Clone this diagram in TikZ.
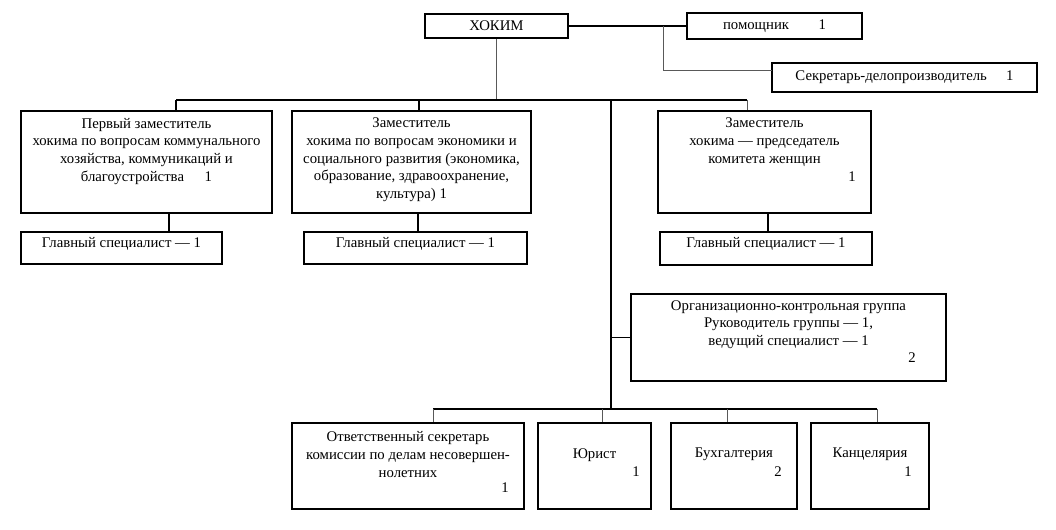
\documentclass[tikz,border=0pt]{standalone}
\usepackage{fontspec}
\setmainfont{Liberation Serif}
\usetikzlibrary{positioning}

\begin{document}
\begin{tikzpicture}[x=0.025cm,y=-0.025cm,
  box/.style={draw,line width=1.4pt,inner sep=0pt,font=\fontsize{10.5}{12.6}\selectfont},
  txt/.style={inner sep=0pt,align=center,font=\fontsize{10.5}{12.6}\selectfont},
  bold/.style={line width=1.4pt},
  fine/.style={line width=0.6pt,gray!70!black}]
\useasboundingbox (0,0) rectangle (1056,529);

% top
\node[box,minimum width=3.575cm,minimum height=0.6cm] (hokim) at (496.5,26) {ХОКИМ};
\node[box,minimum width=4.375cm,minimum height=0.65cm] (pomosh) at (774.5,26) {помощник\hspace{2em}1};
\node[box,minimum width=6.625cm,minimum height=0.725cm] (sekr) at (904.5,77.5) {Секретарь-делопроизводитель\hspace{1.3em}1};

% deputies
\node[box,minimum width=6.275cm,minimum height=2.55cm] (zam1) at (146.5,162) {};
\node[txt,below=0.19cm of zam1.north] (zam1txt) {Первый заместитель\\хокима по вопросам коммунального\\хозяйства, коммуникаций и\\благоустройства\hspace{1.4em}1};
\node[box,minimum width=5.975cm,minimum height=2.55cm] (zam2) at (411.5,162) {};
\node[txt,below=0.19cm of zam2.north] (zam2txt) {Заместитель\\хокима по вопросам экономики и\\социального развития (экономика,\\образование, здравоохранение,\\культура) 1};
\node[box,minimum width=5.325cm,minimum height=2.55cm] (zam3) at (764.5,162) {};
\node[txt,below=0.19cm of zam3.north] (zam3txt) {Заместитель\\хокима — председатель\\комитета женщин};
\node[txt] (zam3num) at (852,177) {1};

\node[box,minimum width=5.025cm,minimum height=0.8cm] (spec1) at (121.5,248) {};
\node[txt,below=0.15cm of spec1.north] (spec1txt) {Главный специалист — 1};
\node[box,minimum width=5.575cm,minimum height=0.8cm] (spec2) at (415.5,248) {};
\node[txt,below=0.15cm of spec2.north] (spec2txt) {Главный специалист — 1};
\node[box,minimum width=5.3cm,minimum height=0.825cm] (spec3) at (766,248.5) {};
\node[txt,below=0.15cm of spec3.north] (spec3txt) {Главный специалист — 1};

% group
\node[box,minimum width=7.875cm,minimum height=2.175cm] (okg) at (788.5,337.5) {};
\node[txt,below=0.18cm of okg.north] (okgtxt) {Организационно-контрольная группа\\Руководитель группы — 1,\\ведущий специалист — 1};
\node[txt] (okgnum) at (912,358) {2};

% bottom row
\node[box,minimum width=5.8cm,minimum height=2.15cm] (otvsek) at (408,466) {};
\node[txt,below=0.23cm of otvsek.north] (otvsektxt) {Ответственный секретарь\\комиссии по делам несовершен-\\нолетних};
\node[txt] (otvseknum) at (505,488) {1};
\node[box,minimum width=2.825cm,minimum height=2.15cm] (yurist) at (594.5,466) {};
\node[txt,below=0.65cm of yurist.north] (yuristtxt) {Юрист};
\node[txt] (yuristnum) at (636,472) {1};
\node[box,minimum width=3.15cm,minimum height=2.15cm] (buh) at (734,466) {};
\node[txt,below=0.65cm of buh.north] (buhtxt) {Бухгалтерия};
\node[txt] (buhnum) at (778,472) {2};
\node[box,minimum width=2.95cm,minimum height=2.15cm] (kants) at (870,466) {};
\node[txt,below=0.65cm of kants.north] (kantstxt) {Канцелярия};
\node[txt] (kantsnum) at (908,472) {1};

% lines
\coordinate (j1) at (663,26);
\coordinate (j2) at (772,70);
\coordinate (b1) at (176,100);
\coordinate (b2) at (419,100);
\coordinate (b3) at (611,100);
\coordinate (b4) at (747,100);
\coordinate (c1) at (433,409);
\coordinate (c2) at (602,409);
\coordinate (c3) at (611,409);
\coordinate (c4) at (727,409);
\coordinate (c5) at (877,409);
\draw[bold] (hokim) -- (pomosh);
\draw[fine] (j1) |- (j2);
\draw[fine] (hokim) -- (hokim.south |- b1);
\draw[bold] (b1) -- (b4);
\draw[bold] (b1) -- (b1 |- zam1.north);
\draw[bold] (b2) -- (b2 |- zam2.north);
\draw[fine] (b4) -- (b4 |- zam3.north);
\draw[bold] (169,0 |- zam1.south) -- (169,0 |- spec1.north);
\draw[bold] (418,0 |- zam2.south) -- (418,0 |- spec2.north);
\draw[bold] (768,0 |- zam3.south) -- (768,0 |- spec3.north);
\draw[bold] (b3) -- (c3);
\draw[bold] (c3 |- okg.west) -- (okg.west);
\draw[bold] (c1) -- (c5);
\draw[fine] (c1) -- (c1 |- otvsek.north);
\draw[fine] (c2) -- (c2 |- yurist.north);
\draw[fine] (c4) -- (c4 |- buh.north);
\draw[fine] (c5) -- (c5 |- kants.north);
\end{tikzpicture}
\end{document}
